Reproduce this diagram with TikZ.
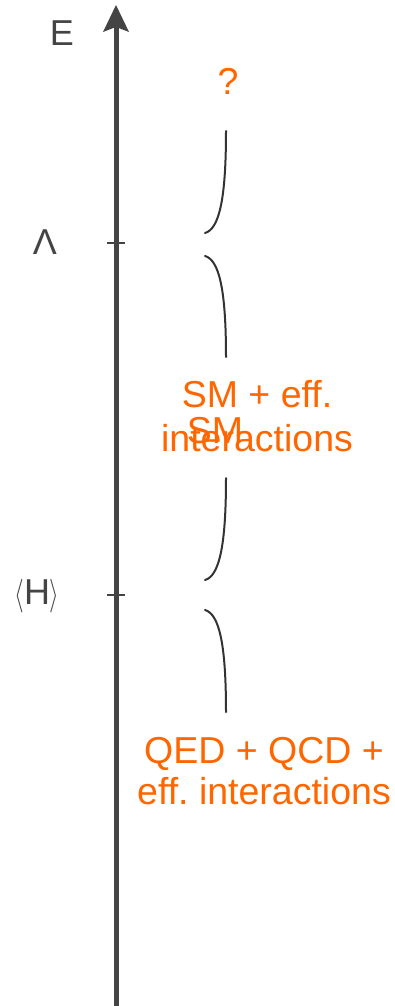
\documentclass[tikz,border=0pt]{standalone}
\usepackage{fontspec}
\setmainfont{Liberation Sans}
\definecolor{axisgray}{HTML}{444444}
\definecolor{bracegray}{HTML}{333333}
\definecolor{labelorange}{HTML}{FF6600}
\begin{document}
\begin{tikzpicture}[x=1pt,y=-1pt,
  axislabel/.style={text=axisgray,inner sep=0pt,font=\fontsize{36}{43}\selectfont},
  rangelabel/.style={text=labelorange,inner sep=0pt,align=center,font=\fontsize{37.5}{44}\selectfont},
  bracepart/.style={draw=bracegray,line width=2pt,line cap=round},
  tickmark/.style={draw=axisgray,line width=2pt}]
\useasboundingbox (0,0) rectangle (395,1006);
% axis
\coordinate (bot) at (116,1010);
\coordinate (top) at (116,27);
\coordinate (tip) at (116,5);
\draw[axisgray,line width=5pt] (bot) -- (top);
\fill[axisgray] (tip) -- (103,32) -- (116,27) -- (129,32) -- cycle;
% ticks
\coordinate (tl1) at (107,243); \coordinate (tr1) at (125,243);
\coordinate (tl2) at (107,595); \coordinate (tr2) at (125,595);
\draw[tickmark] (tl1) -- (tr1);
\draw[tickmark] (tl2) -- (tr2);
% axis labels
\node[axislabel] (E) at (62,33) {E};
\node[axislabel] (Lam) at (45,242) {Λ};
\node[axislabel] (H) at (37,596) {\scalebox{1}[1.35]{$\langle$}H\scalebox{1}[1.35]{$\rangle$}};
% brace pieces
\coordinate (b1a) at (226,131); \coordinate (b1b) at (205,233);
\coordinate (b2a) at (205,256); \coordinate (b2b) at (226,357);
\coordinate (b2c) at (226,478); \coordinate (b2d) at (205,580);
\coordinate (b3a) at (205,610); \coordinate (b3b) at (226,712);
\draw[bracepart] (b1a) .. controls (226,200) and (219,229) .. (b1b);
\draw[bracepart] (b2a) .. controls (219,260) and (226,289) .. (b2b);
\draw[bracepart] (b2c) .. controls (226,547) and (219,576) .. (b2d);
\draw[bracepart] (b3a) .. controls (219,614) and (226,643) .. (b3b);
% range labels
\node[rangelabel] (q) at (228,81) {?};
\node[rangelabel] (smeff) at (257,416) {SM + eff.\\interactions};
\node[rangelabel] (sm) at (215,431) {SM};
\node[rangelabel,font=\fontsize{37.5}{41}\selectfont] (qed) at (264,771) {QED + QCD +\\eff.\ interactions};
\end{tikzpicture}
\end{document}
